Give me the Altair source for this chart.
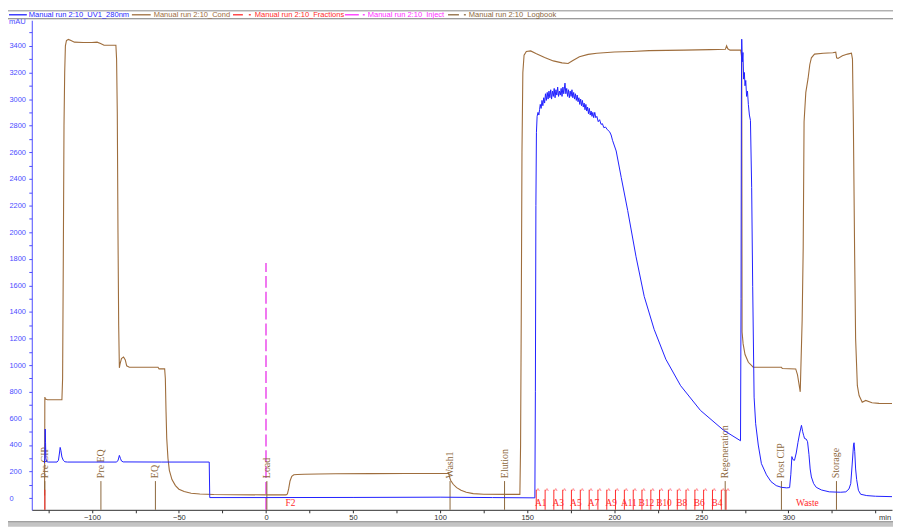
import altair as alt
import pandas as pd

# ---------------- data ----------------
cond_t = [-127.15, -127.0, -126.6, -125.5, -117.2, -116.8, -116.4, -116.0, -115.6, -115.2, -114.6, -113.5, -112.0,
          -110.0, -105.0, -100.0, -97.0, -95.0, -93.0, -90.0, -86.2, -85.8, -85.4, -85.0, -84.6, -84.2,
          -83.8, -83.0, -81.8, -80.8, -80.0, -78.5, -70.0, -62.0, -61.4, -58.2, -57.8, -57.4, -57.0, -56.3,
          -55.5, -54.0, -52.0, -50.0, -47.0, -43.0, -38.0, -30.0, 0.0, 11.5, 12.3, 13.0, 13.8, 14.8, 16.0,
          18.0, 22.0, 30.0, 40.0, 60.0, 80.0, 104.0, 104.8, 105.4, 106.0, 107.5, 109.5, 112.0, 115.0, 119.0,
          125.0, 140.0, 145.8, 146.2, 146.6, 147.0, 147.5, 148.2, 149.5, 152.0, 155.0, 160.0, 165.0, 170.0,
          173.5, 176.0, 180.0, 185.0, 190.0, 200.0, 210.0, 220.0, 240.0, 255.0, 263.8, 264.5, 265.2, 266.5,
          272.6, 273.0, 273.2, 273.4, 274.0, 275.1, 277.0, 279.8, 290.0, 296.0, 296.5, 304.2, 305.2, 306.8,
          307.9, 308.5, 309.0, 310.0, 311.3, 312.3, 313.2, 315.0, 320.0, 325.5, 327.2, 327.7, 328.5, 331.0,
          334.0, 336.2, 336.8, 337.3, 338.0, 338.6, 339.6, 340.6, 342.4, 344.4, 348.0, 352.0, 359.5]
cond_v = [20, 760, 745, 740, 740, 900, 1800, 2800, 3200, 3400, 3440, 3448, 3440,
          3428, 3425, 3425, 3428, 3418, 3405, 3405, 3405, 3300, 2900, 2000, 1300, 980,
          1010, 1050, 1062, 1040, 995, 985, 985, 985, 972, 972, 900, 650, 450, 300,
          210, 140, 95, 68, 50, 38, 32, 28, 25, 25, 32, 70, 130, 165, 176,
          179, 180, 182, 184, 185, 186, 186, 192, 160, 135, 105, 80, 60, 45, 35,
          30, 29, 29, 400, 1400, 2600, 3200, 3330, 3358, 3362, 3342, 3312, 3287, 3272,
          3267, 3288, 3318, 3336, 3345, 3354, 3358, 3364, 3368, 3372, 3374, 3400, 3378, 3368,
          3368, 3330, 3300, 1250, 1160, 1080, 1022, 985, 985, 985, 975, 972, 930, 800,
          1340, 1880, 2830, 3050, 3155, 3260, 3310, 3338, 3345, 3348, 3352, 3310, 3305, 3325,
          3338, 3345, 3300, 2834, 1880, 1200, 846, 772, 722, 735, 718, 713, 712]

uv_t = [-127.3, -127.0, -126.8, -126.6, -126.4, -126.0, -125.0, -120.0, -119.2, -118.6, -118.2, -117.8,
        -117.2, -116.4, -115.5, -114.0, -86.0, -85.0, -84.2, -83.6, -83.0, -82.0, -60.0, -32.6, -32.3,
        0.0, 50.0, 100.0, 130.0, 154.4, 154.7, 155.0, 155.3, 155.7, 156.2, 156.7, 157.1, 157.5, 158.0,
        158.5, 159.0, 159.5, 160.0, 160.5, 161.0, 161.5, 162.0, 162.5, 163.0, 163.5, 164.0, 164.5, 165.0,
        165.5, 166.0, 166.5, 167.0, 167.5, 168.0, 168.5, 169.0, 169.5, 170.0, 170.5, 171.0, 171.7, 172.2,
        172.7, 173.2, 173.7, 174.2, 174.7, 175.2, 175.7, 176.2, 176.7, 177.2, 177.7, 178.2, 178.7, 179.2,
        179.7, 180.2, 180.7, 181.2, 181.7, 182.2, 182.7, 183.2, 183.7, 184.2, 184.7, 185.2, 185.7, 186.2,
        186.7, 187.2, 187.7, 188.2, 188.8, 189.4, 190.0, 190.8, 191.6, 192.4, 193.2, 194.0, 195.0, 196.0,
        197.3, 198.2, 199.0, 201.1, 204.0, 207.7, 212.5, 217.2, 222.9, 229.6, 238.1, 249.5, 262.8, 272.5,
        272.8, 273.0, 273.2, 273.5, 273.9, 274.3, 274.7, 275.1, 275.5, 276.0, 276.5, 277.0, 277.6, 278.2,
        278.9, 279.5, 280.3, 281.2, 282.7, 284.5, 287.4, 290.0, 293.0, 296.0, 299.0, 300.7, 301.4, 302.0,
        302.6, 303.5, 304.5, 305.5, 306.5, 307.5, 308.2, 308.8, 309.3, 310.2, 311.0, 311.8, 312.5, 313.2,
        314.5, 316.0, 319.0, 323.5, 330.0, 333.0, 334.8, 335.8, 336.6, 337.4, 337.7, 338.1, 338.6, 339.2,
        340.2, 341.5, 345.0, 350.0, 359.5]
uv_v = [265, 300, 520, 420, 300, 275, 272, 272, 285, 340, 382, 360,
        310, 285, 274, 272, 272, 282, 322, 300, 280, 273, 272, 272, 5,
        5, 6, 8, 5, 3, 800, 2200, 2750, 2870, 2900, 2880, 2920, 2960, 2930,
        2990, 2950, 3010, 2970, 3040, 2990, 3050, 3000, 3060, 3010, 3070, 3000, 3060, 3020,
        3080, 3010, 3070, 3030, 3090, 3020, 3060, 3030, 3080, 3020, 3090, 3040, 3120, 3040,
        3080, 3020, 3070, 3010, 3060, 3020, 3070, 3010, 3050, 3000, 3040, 2990, 3030, 2980,
        3010, 2960, 3000, 2950, 2990, 2940, 2970, 2920, 2960, 2910, 2940, 2890, 2930, 2880,
        2910, 2870, 2900, 2860, 2900, 2860, 2870, 2830, 2845, 2810, 2815, 2785, 2790, 2770,
        2755, 2730, 2690, 2610, 2411, 2163, 1815, 1517, 1269, 1045, 846, 660, 511, 432,
        1500, 3000, 3450, 3280, 3350, 3150, 3200, 3100, 3140, 3020, 3060, 2960, 2880, 2840,
        2336, 1590, 760, 560, 400, 260, 176, 125, 95, 82, 78, 80, 180, 313,
        290, 285, 340, 420, 490, 548, 500, 470, 449, 445, 425, 330, 220, 160,
        110, 82, 62, 48, 45, 48, 70, 110, 250, 400, 417, 350, 220, 140,
        60, 30, 20, 15, 12]

log_names = ["Pre CIP", "Pre EQ", "EQ", "Load", "Wash1", "Elution", "Regeneration", "Post CIP", "Storage"]
log_t = [-127.0, -94.8, -63.5, 0.5, 105.7, 137.0, 263.7, 296.0, 327.6]

inject_t = [0.0]
inject_top = [1768]

frac_start = [-127.0, 155.2, 160.3, 165.3, 170.4, 175.4, 180.5, 185.6, 190.6, 195.7, 200.7, 205.8,
              210.9, 215.9, 221.0, 226.0, 231.1, 236.2, 241.2, 246.3, 251.3, 256.4, 261.5, 264.2]
frac_end = frac_start[1:] + [357.6]
frac_label = ["F2", "A1", "", "A3", "", "A5", "", "A7", "", "A9", "", "A11",
              "", "B12", "", "B10", "", "B8", "", "B6", "", "B4", "", "Waste"]

legend_names = ["Manual run 2:10_UV1_280nm", "Manual run 2:10_Cond", "Manual run 2:10_Fractions",
                "Manual run 2:10_Inject", "Manual run 2:10_Logbook"]

# ---------------- styles / layout ----------------
UV_C = "#1f1fff"
COND_C = "#9e6d3c"
LOG_C = "#8c673c"
FRAC_C = "#ff2b2b"
INJ_C = "#e61ee6"
YAX_C = "#4c4cff"
legend_colors = [UV_C, COND_C, FRAC_C, "#ff2cff", LOG_C]
# legend geometry in plot pixel coordinates: main stroke, short dash (or None), text start
legend_geo = [((-23, -5), None, -3), ((101, 120), None, 123), ((203, 213), (219, 221), 225),
              ((316, 330), (334, 336), 339), ((420, 431), (436, 438), 441)]

W, H = 868, 494
xs = alt.Scale(domain=[-134.5, 359.5], nice=False, zero=False)
ys = alt.Scale(domain=[-87, 3592.5], nice=False, zero=False)
SERIF = "Liberation Serif"
SANS = "Liberation Sans"

cond_df = pd.DataFrame({"t": cond_t, "v": cond_v, "i": range(len(cond_t))})
uv_df = pd.DataFrame({"t": uv_t, "v": uv_v, "i": range(len(uv_t))})
log_df = pd.DataFrame({"t": log_t, "name": log_names, "lo": -87, "hi": 129, "ty": 151})
inj_df = pd.DataFrame({"t": inject_t, "lo": -87, "hi": inject_top})
frac_df = pd.DataFrame({"t": frac_start, "lo": -87, "hi": 64, "cy": 74})
lab_df = pd.DataFrame({"c": [(a + b) / 2 for a, b in zip(frac_start, frac_end)],
                       "label": frac_label, "ly": -35})
lab_df = lab_df[lab_df["label"] != ""]
one = pd.DataFrame({"a": [0]})

x_axis = alt.Axis(values=list(range(-125, 351, 25)), tickSize=3, tickColor="#303030",
                  domainColor="#303030", labelColor="#303030", labelFont=SANS, labelFontSize=7.6,
                  labelPadding=1, format="d",
                  labelExpr="(datum.value % 50 == 0 && datum.value != 350) ? datum.label : ''",
                  grid=False, title=None, labelFlush=False, labelOverlap=False)
y_axis = alt.Axis(values=list(range(0, 3501, 100)), tickSize=3, tickColor=YAX_C, domainColor=YAX_C,
                  labelColor=YAX_C, labelFont=SANS, labelFontSize=7.5, labelAlign="left",
                  labelBaseline="middle", labelPadding=20, format="d",
                  labelExpr="(datum.value % 200 == 0 && datum.value <= 3400) ? datum.label : ''",
                  grid=False, title=None, labelFlush=False, labelOverlap=False)


def X(field):
    return alt.X(field, scale=xs, axis=x_axis)


def Y(field):
    return alt.Y(field, scale=ys, axis=y_axis)


cond = alt.Chart(cond_df).mark_line(color=COND_C, strokeWidth=1.1).encode(
    x=X("t:Q"), y=Y("v:Q"), order="i:Q")

uv = alt.Chart(uv_df).mark_line(color=UV_C, strokeWidth=1).encode(
    x=X("t:Q"), y=Y("v:Q"), order="i:Q")

inject = alt.Chart(inj_df).mark_rule(color=INJ_C, strokeWidth=1.2, strokeDash=[12, 4]).encode(
    x=X("t:Q"), y=Y("lo:Q"), y2="hi:Q")

log_rules = alt.Chart(log_df).mark_rule(color=LOG_C, strokeWidth=1).encode(
    x=X("t:Q"), y=Y("lo:Q"), y2="hi:Q")

log_text = alt.Chart(log_df).mark_text(angle=270, align="left", baseline="middle", font=SERIF,
                                       fontSize=10, color=LOG_C).encode(
    x=X("t:Q"), y=Y("ty:Q"), text="name:N")

frac_rules = alt.Chart(frac_df).mark_rule(color=FRAC_C, strokeWidth=1).encode(
    x=X("t:Q"), y=Y("lo:Q"), y2="hi:Q")

frac_caret = alt.Chart(frac_df[frac_df["t"] > 0]).mark_text(text="^", color=FRAC_C, font=SANS,
                                                            fontSize=7, dx=2, dy=3).encode(
    x=X("t:Q"), y=Y("cy:Q"))

frac_text = alt.Chart(lab_df).mark_text(color=FRAC_C, font=SERIF, fontSize=9.5, baseline="middle").encode(
    x=X("c:Q"), y=Y("ly:Q"), text="label:N")

# frame, titles and legend (layout elements)
decor = [
    alt.Chart(one).mark_rect(color="#c4c4c4").encode(
        x=alt.value(-24), x2=alt.value(W + 1), y=alt.value(506), y2=alt.value(H + 17)),
    alt.Chart(one).mark_rule(color="#8a8a8a", strokeWidth=1).encode(
        x=alt.value(-24), x2=alt.value(W + 1), y=alt.value(506)),
    alt.Chart(one).mark_rule(color="#8a8a8a", strokeWidth=1).encode(
        x=alt.value(-24), x2=alt.value(W + 1), y=alt.value(-9.5)),
    alt.Chart(one).mark_rule(color="#7a7a7a", strokeWidth=1.2).encode(
        x=alt.value(-24), x2=alt.value(W + 1), y=alt.value(-1.5)),
    alt.Chart(one).mark_text(text="mAU", color=YAX_C, font=SANS, fontSize=7.6, align="left",
                             baseline="middle").encode(x=alt.value(-23), y=alt.value(2)),
    alt.Chart(one).mark_text(text="min", color="#303030", font=SANS, fontSize=7.6, align="center",
                             baseline="top").encode(x=alt.value(861), y=alt.value(H + 4)),
]
for name, col, (main, dash, tx) in zip(legend_names, legend_colors, legend_geo):
    decor.append(alt.Chart(one).mark_rule(color=col, strokeWidth=1.3).encode(
        x=alt.value(main[0]), x2=alt.value(main[1]), y=alt.value(-5.5)))
    if dash is not None:
        decor.append(alt.Chart(one).mark_rule(color=col, strokeWidth=1.3).encode(
            x=alt.value(dash[0]), x2=alt.value(dash[1]), y=alt.value(-5.5)))
    decor.append(alt.Chart(one).mark_text(text=name, color=col, font=SANS, fontSize=7.6, align="left",
                                          baseline="middle").encode(x=alt.value(tx), y=alt.value(-5.5)))

chart = alt.layer(cond, inject, log_rules, log_text, frac_rules, frac_caret, frac_text, uv, *decor).properties(
    width=W, height=H,
    autosize=alt.AutoSizeParams(type="none"),
    padding={"left": 24, "top": 10, "right": 1, "bottom": 17},
    background="white",
).configure_view(strokeWidth=0)

chart.save("out.html", embed_options={"renderer": "svg", "actions": False})
